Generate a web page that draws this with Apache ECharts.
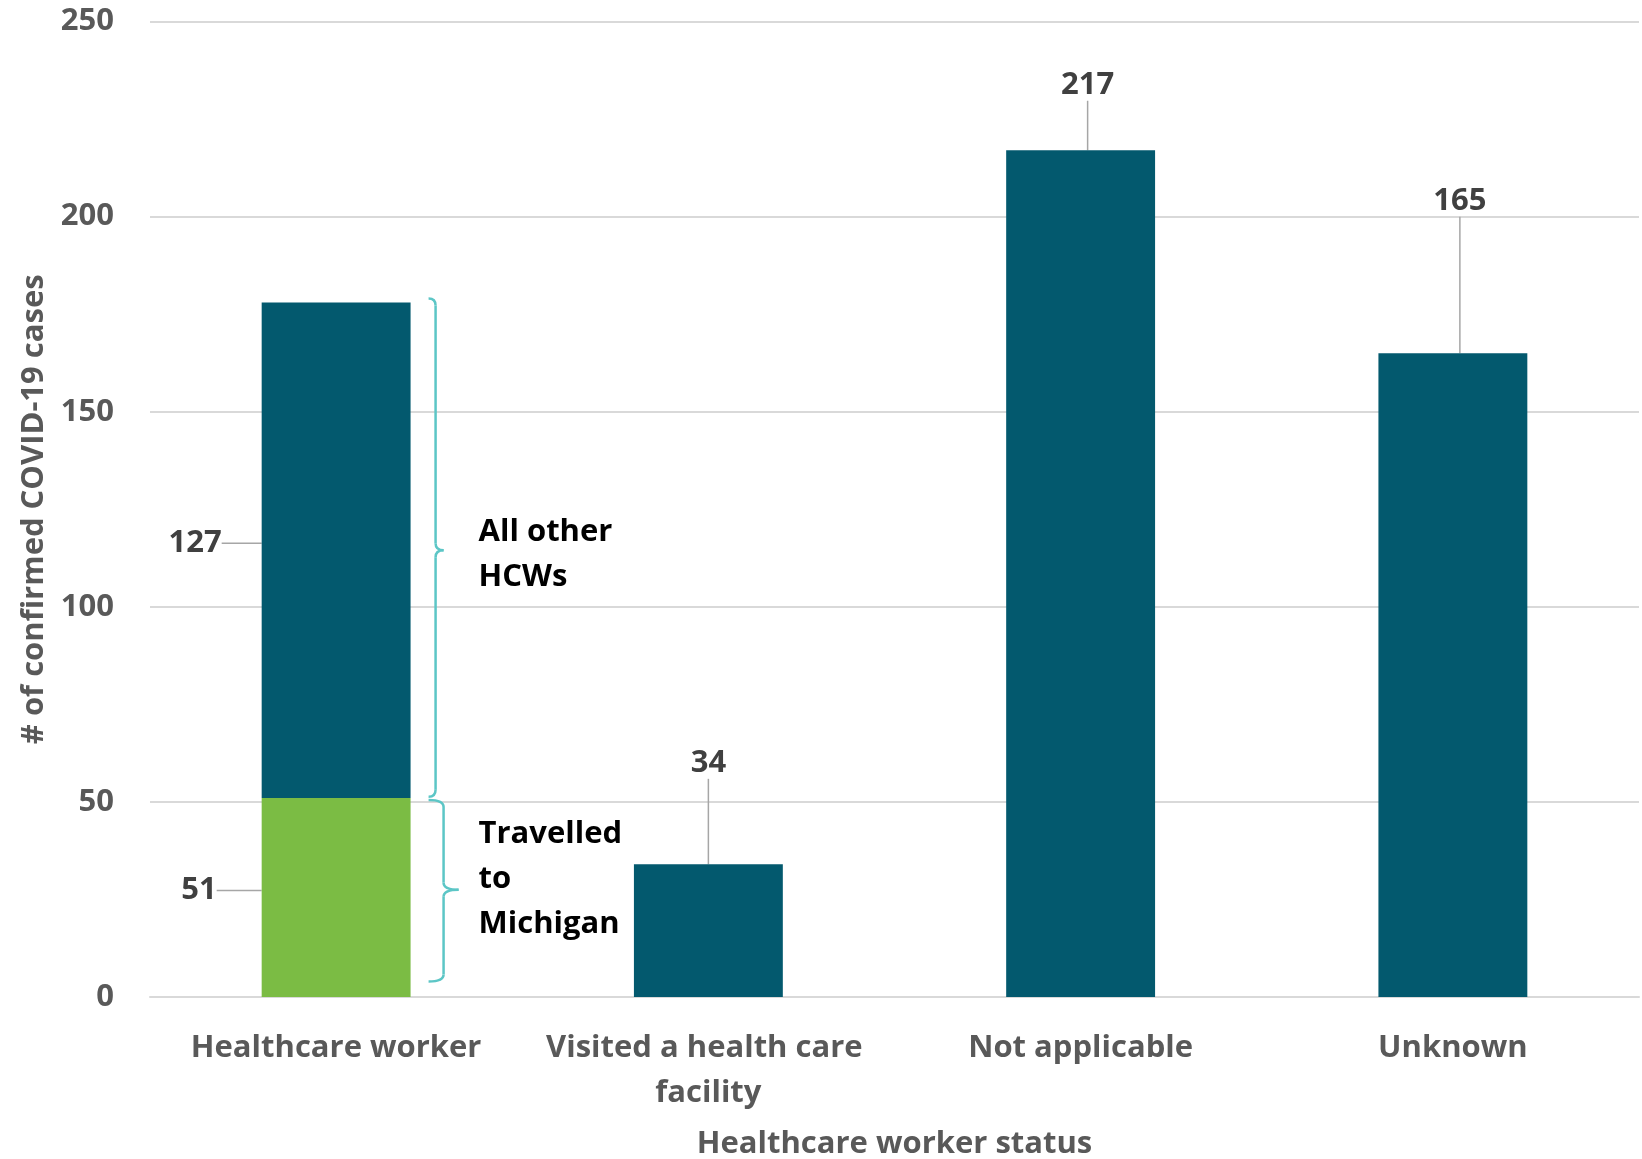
<!DOCTYPE html>
<html><head><meta charset="utf-8">
<script src="https://cdn.jsdelivr.net/npm/echarts@6/dist/echarts.min.js"></script>
<style>html,body{margin:0;padding:0;background:#fff;overflow:hidden;width:1642px;height:1159px}#c{position:absolute;left:0;top:0;width:1642px;height:1159px}</style>
</head><body><div id="c"></div>
<script>
// ---- data ----
const categories = ['Healthcare worker', 'Visited a health care facility', 'Not applicable', 'Unknown'];
const travelledMichigan = [51, null, null, null];
const otherCases = [127, 34, 217, 165];
const yTickValues = [0, 50, 100, 150, 200, 250];
const xAxisTitle = 'Healthcare worker status';
const yAxisTitle = '# of confirmed COVID-19 cases';
const noteOther = ['All other', 'HCWs'];
const noteTravel = ['Travelled', 'to', 'Michigan'];
// bracket value spans (top, middle, bottom) for annotations
const bracketOther = [179, 114.5, 51.3];
const bracketTravel = [50.5, 27.5, 4];

// ---- styles ----
const FONT = '"Open Sans"';
const FS = 31;
const DARK = '#03596E';
const GREEN = '#7BBC44';
const TEAL = '#5CC6C6';
const AXIS_TXT = '#595959';
const LBL_TXT = '#404040';

// label placement relative to each bar (presentation only): [kind, dx, dy]
const otherLabelPlace = [['left', -40, -7], ['top', 0, -101], ['top', 7, -65], ['top', 7, -152]];
const travelLabelPlace = [['left', -45, -7]];

function placeLabel(places) {
  return function (p) {
    const pl = places[p.dataIndex];
    if (!pl) return {};
    const r = p.rect;
    if (pl[0] === 'left') {
      return { x: r.x + pl[1], y: r.y + r.height / 2 + pl[2], align: 'right', verticalAlign: 'middle' };
    }
    return { x: r.x + r.width / 2 + pl[1], y: r.y + pl[2], align: 'center', verticalAlign: 'middle' };
  };
}

const chart = echarts.init(document.getElementById('c'), null, { renderer: 'canvas', width: 1642, height: 1159 });

const labelBase = { show: true, position: 'top', fontFamily: FONT, fontWeight: 'bold', fontSize: FS, color: LBL_TXT };
const lineStyle = { color: '#A6A6A6', width: 1.5 };

const option = {
  animation: false,
  backgroundColor: '#fff',
  grid: { left: 150, right: 3, top: 21.5, bottom: 162, containLabel: false, outerBoundsMode: 'none' },
  xAxis: {
    type: 'category',
    data: categories,
    axisTick: { show: false },
    axisLine: { lineStyle: { color: '#D9D9D9', width: 2 } },
    axisLabel: {
      interval: 0, margin: 29, width: 340, overflow: 'break',
      fontFamily: FONT, fontWeight: 'bold', fontSize: FS, color: AXIS_TXT, lineHeight: 45
    },
    name: xAxisTitle, nameLocation: 'middle', nameGap: 132,
    nameTextStyle: { fontFamily: FONT, fontWeight: 'bold', fontSize: FS, color: AXIS_TXT }
  },
  yAxis: {
    type: 'value',
    min: yTickValues[0], max: yTickValues[yTickValues.length - 1],
    interval: yTickValues[1] - yTickValues[0],
    axisLine: { show: false }, axisTick: { show: false },
    splitLine: { lineStyle: { color: '#D9D9D9', width: 2 } },
    axisLabel: { margin: 36, fontFamily: FONT, fontWeight: 'bold', fontSize: FS, color: AXIS_TXT },
    name: yAxisTitle, nameLocation: 'middle', nameGap: 100,
    nameTextStyle: { fontFamily: FONT, fontWeight: 'bold', fontSize: FS, color: AXIS_TXT }
  },
  series: [
    {
      name: 'Travelled to Michigan', type: 'bar', stack: 'hcw',
      barWidth: '40%',
      itemStyle: { color: GREEN },
      data: travelledMichigan.map(v => v == null ? '-' : v),
      label: labelBase,
      labelLayout: placeLabel(travelLabelPlace),
      labelLine: { show: true, length2: 14, lineStyle: lineStyle }
    },
    {
      name: 'Other', type: 'bar', stack: 'hcw',
      barWidth: '40%',
      itemStyle: { color: DARK },
      data: otherCases,
      label: labelBase,
      labelLayout: placeLabel(otherLabelPlace),
      labelLine: { show: true, lineStyle: lineStyle }
    }
  ]
};
chart.setOption(option);

// ---- annotations (brackets + notes) placed from the chart's own scale ----
function addNotes() {
  const lay = chart.getModel().getSeriesByIndex(1).getData().getItemLayout(0);
  const R = lay.x + lay.width;
  const yv = v => chart.convertToPixel({ yAxisIndex: 0 }, v);
  const st = { stroke: TEAL, lineWidth: 2.5, fill: null };
  function brace(vals, xL, xB, xN) {
    const [yT, yM, yB] = vals.map(yv);
    const r = 7;
    return [
      { type: 'bezierCurve', shape: { x1: xL, y1: yT, x2: xB, y2: yT + r, cpx1: xB, cpy1: yT }, style: st },
      { type: 'line', shape: { x1: xB, y1: yT + r, x2: xB, y2: yM - r }, style: st },
      { type: 'bezierCurve', shape: { x1: xB, y1: yM - r, x2: xN, y2: yM, cpx1: xB, cpy1: yM }, style: st },
      { type: 'bezierCurve', shape: { x1: xN, y1: yM, x2: xB, y2: yM + r, cpx1: xB, cpy1: yM }, style: st },
      { type: 'line', shape: { x1: xB, y1: yM + r, x2: xB, y2: yB - r }, style: st },
      { type: 'bezierCurve', shape: { x1: xB, y1: yB - r, x2: xL, y2: yB, cpx1: xB, cpy1: yB }, style: st }
    ];
  }
  function note(lines, vMid, dy) {
    return {
      type: 'text',
      x: R + 68, y: yv(vMid) + dy,
      style: {
        text: lines.join('\n'), font: 'bold ' + FS + 'px ' + FONT,
        fill: '#000', lineHeight: 45, verticalAlign: 'middle', align: 'left'
      }
    };
  }
  chart.setOption({
    graphic: [].concat(
      brace(bracketOther, R + 18, R + 25, R + 33),
      brace(bracketTravel, R + 18, R + 33, R + 48),
      [note(noteOther, bracketOther[1], 4), note(noteTravel, bracketTravel[1], -11)]
    )
  });
}
addNotes();
</script>
</body></html>
